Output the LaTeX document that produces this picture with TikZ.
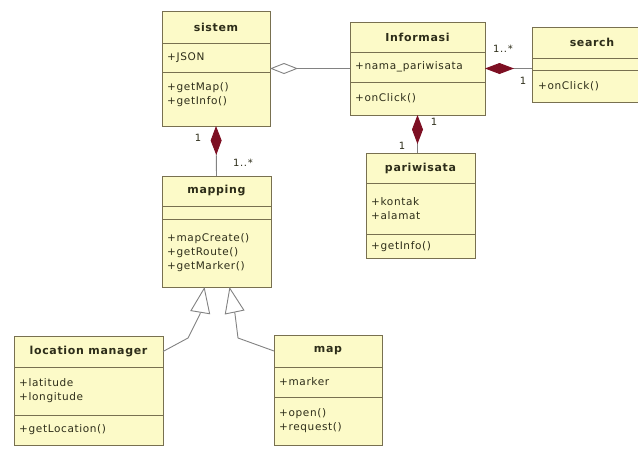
\documentclass[tikz,border=0pt]{standalone}
\usepackage{fontspec}
\setmainfont{DejaVu Sans}[LetterSpace=6]
\usetikzlibrary{arrows.meta,calc}
\definecolor{boxfill}{RGB}{252,250,200}
\definecolor{boxline}{RGB}{120,112,80}
\definecolor{connc}{RGB}{130,130,130}
\definecolor{compc}{RGB}{125,15,35}
\definecolor{txt}{RGB}{45,45,25}
\tikzset{
  classrect/.style={draw=boxline, fill=boxfill, line width=1pt, inner sep=0pt, outer sep=0pt},
  classline/.style={draw=boxline, line width=0.8pt},
  classtitle/.style={font=\fontsize{11}{13}\selectfont\bfseries, text=txt, inner sep=0pt},
  member/.style={font=\fontsize{10.5}{14}\selectfont, text=txt, align=left, anchor=west, inner sep=0pt},
  connector/.style={draw=connc, line width=0.9pt},
  aggr/.style={connector, {Diamond[open, fill=white, length=28pt, width=11pt, line width=0.9pt]}-},
  compo/.style={connector, {Diamond[fill=compc, color=compc, length=29pt, width=11pt]}-},
  gener/.style={connector, -{Triangle[open, fill=white, length=26pt, width=20pt, line width=0.9pt]}},
  mult/.style={font=\fontsize{10}{12}\selectfont, text=txt, inner sep=0pt}
}
\newcommand{\classbox}[8]{%
  \node[classrect, minimum width={(#4-#2)*1pt}, minimum height={(#5-#3)*1pt}] (#1) at ({(#2+#4)/2},{(#3+#5)/2}) {};
  \draw[classline] (#2,#6) -- (#4,#6) (#2,#7) -- (#4,#7);
  \node[classtitle] (#1-t) at ({(#2+#4)/2},{(#3+#6)/2}) {#8};
}
\begin{document}
\begin{tikzpicture}[x=1pt,y=-1pt]
\useasboundingbox (0,0) rectangle (638,448);
\fill[white] (0,0) rectangle (638,448);
\clip (0,0) rectangle (638,448);

% classes
\classbox{sistem}{162}{11}{270}{126}{43}{72}{sistem}
\node[member] (sistem-a) at (167,57.5) {+JSON};
\node[member] (sistem-m) at (167,95) {+getMap()\\+getInfo()};

\classbox{Informasi}{350}{22}{485}{115}{52}{82}{Informasi}
\node[member] (Informasi-a) at (355,67) {+nama\_pariwisata};
\node[member] (Informasi-m) at (355,98) {+onClick()};

\classbox{search}{532}{27}{652}{102}{58}{70}{search}
\node[member] (search-m) at (538,86) {+onClick()};

\classbox{pariwisata}{366}{153}{475}{258}{183}{234}{pariwisata}
\node[member] (pariwisata-a) at (371,209) {+kontak\\+alamat};
\node[member] (pariwisata-m) at (371,247) {+getInfo()};

\classbox{mapping}{162}{176}{271}{287}{206}{219}{mapping}
\node[member] (mapping-m) at (167,253) {+mapCreate()\\+getRoute()\\+getMarker()};

\classbox{lm}{14}{336}{163}{445}{367}{415}{location manager}
\node[member] (lm-a) at (19,391) {+latitude\\+longitude};
\node[member] (lm-m) at (19,430) {+getLocation()};

\classbox{map}{274}{335}{382}{445}{367}{397}{map}
\node[member] (map-a) at (279,382) {+marker};
\node[member] (map-m) at (279,421) {+open()\\+request()};

% connectors
\draw[aggr] (sistem.east) -- (Informasi.west);
\draw[compo] (Informasi.east) -- (Informasi.east -| search.west);
\draw[compo] (Informasi.south) -- (Informasi.south |- pariwisata.north);
\draw[compo] (sistem.south) -- (mapping.north);
\draw[gener] (lm.east |- lm-t) -- (188,338) -- (200,314) -- ([xshift=-12pt]mapping.south);
\draw[gener] (map.west |- map-t) -- (238,338) -- (235,314) -- ([xshift=13pt]mapping.south);

% multiplicities
\node[mult] (m1) at (503,49) {1..*};
\node[mult] (m2) at (523,81) {1};
\node[mult] (m3) at (434,122) {1};
\node[mult] (m4) at (402,146) {1};
\node[mult] (m5) at (198,138) {1};
\node[mult] (m6) at (243,163) {1..*};
\end{tikzpicture}
\end{document}
